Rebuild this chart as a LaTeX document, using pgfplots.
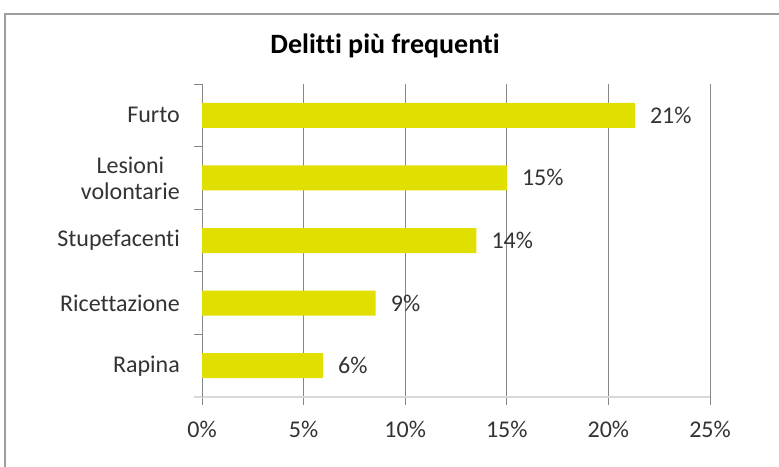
\documentclass[border=0pt]{standalone}
\usepackage{pgfplots}
\pgfplotsset{compat=1.18}
\usepackage{fontspec}
\setmainfont{Carlito}[Ligatures={NoCommon}]
\definecolor{baryellow}{RGB}{224,223,0}
\definecolor{gridgray}{RGB}{134,134,134}
\definecolor{axisgray}{RGB}{217,217,217}
\definecolor{txt}{RGB}{51,51,51}
\begin{document}
\begin{tikzpicture}
\useasboundingbox (0,0) rectangle (779pt,-466pt);
\draw[color=gridgray!80, line width=2pt] (4.5pt,-490pt) -- (4.5pt,-13.5pt) -- (800pt,-13.5pt);
\node[anchor=base, font=\fontsize{28}{32}\selectfont\bfseries, text=black] at (385pt,-53pt) {Delitti più frequenti};
\begin{axis}[
  at={(202pt,-397pt)}, anchor=south west,
  scale only axis, width=508pt, height=313pt,
  xbar, bar width=25pt,
  xmin=0, xmax=25, ymin=-0.5, ymax=4.5,
  axis x line*=bottom, axis y line*=left,
  x axis line style={color=axisgray, line width=2.5pt},
  y axis line style={color=gridgray, line width=1pt},
  xtick={0,5,10,15,20,25},
  xticklabels={0\%,5\%,10\%,15\%,20\%,25\%},
  ytick={0,1,2,3,4},
  yticklabels={Rapina,Ricettazione,Stupefacenti,{Lesioni\\volontarie},Furto},
  minor ytick={-0.5,0.5,1.5,2.5,3.5,4.5},
  tick align=outside,
  major tick length=8pt, minor tick length=8pt,
  every major y tick/.append style={draw=none},
  every minor y tick/.append style={color=gridgray, line width=1pt},
  every major x tick/.append style={color=gridgray, line width=1pt},
  xmajorgrids, major x grid style={color=gridgray, line width=1pt},
  ticklabel style={font=\fontsize{24}{26}\selectfont, text=txt},
  yticklabel style={align=center, inner sep=0pt, xshift=-14pt},
  xticklabel style={inner sep=0pt, yshift=-16pt},
  nodes near coords,
  point meta=explicit symbolic,
  nodes near coords style={anchor=west, inner sep=1pt, xshift=14pt, font=\fontsize{24}{26}\selectfont, text=txt},
  clip=false,
]
\addplot[fill=baryellow, draw=none] coordinates {
  (5.95,0) [6\%]
  (8.55,1) [9\%]
  (13.5,2) [14\%]
  (15.0,3) [15\%]
  (21.3,4) [21\%]
};
\draw[color=axisgray, line width=2.5pt] ([xshift=-8pt]rel axis cs:0,0) -- (rel axis cs:0,0);
\end{axis}
\end{tikzpicture}
\end{document}
